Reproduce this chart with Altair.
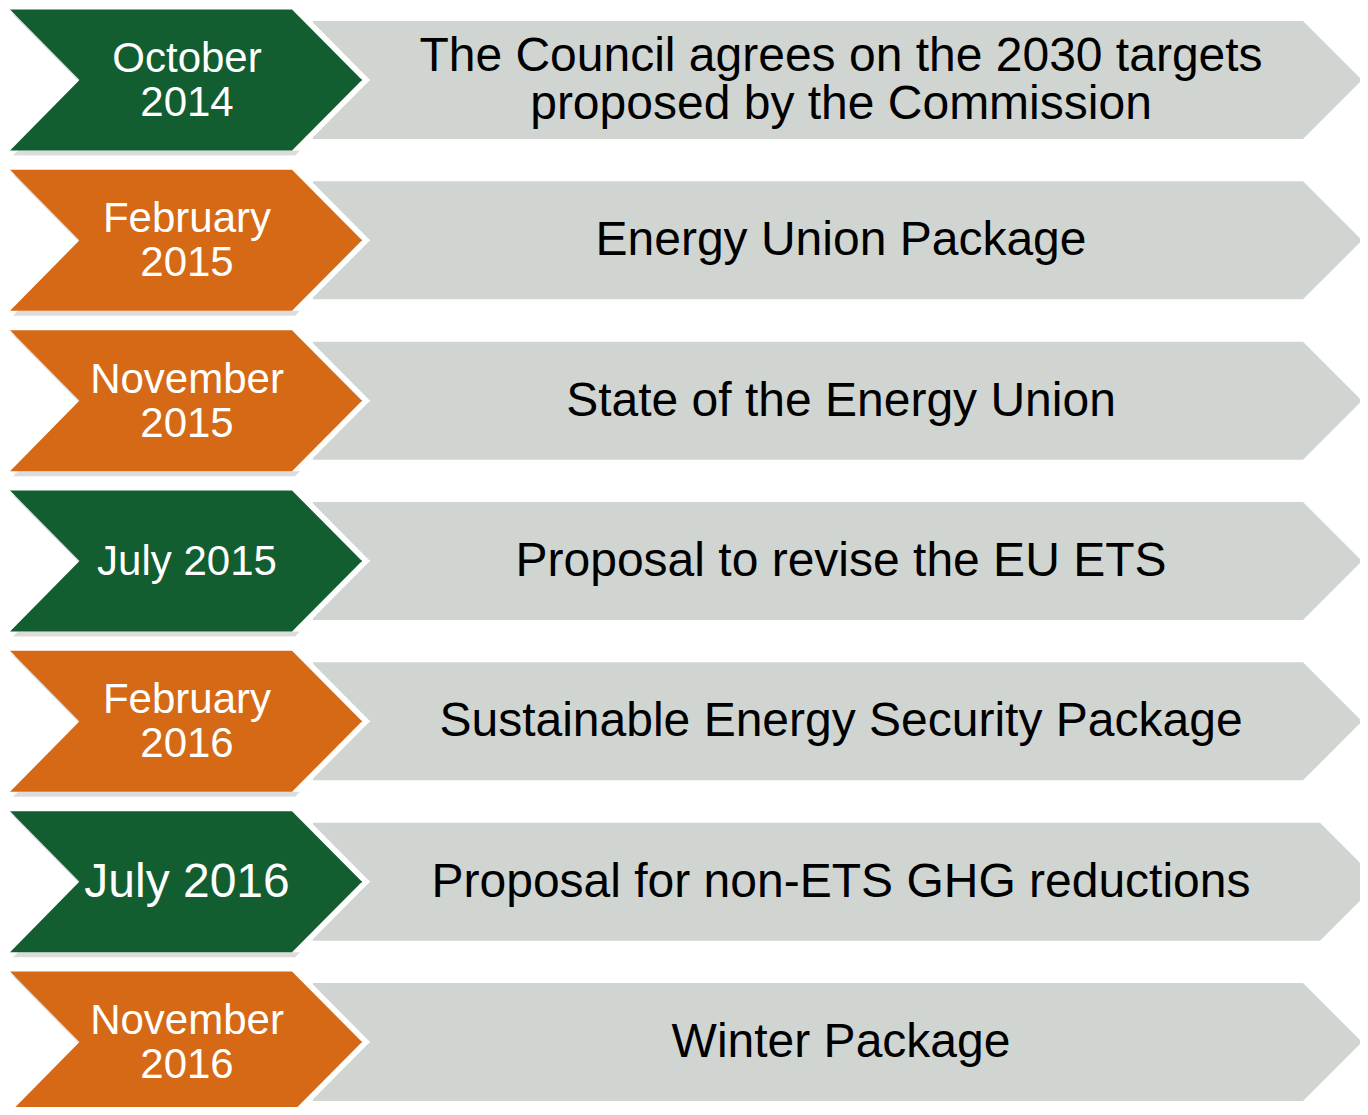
import altair as alt
import pandas as pd

# ---- data ----
dates = ["October\n2014", "February\n2015", "November\n2015", "July 2015",
         "February\n2016", "July 2016", "November\n2016"]
events = ["The Council agrees on the 2030 targets\nproposed by the Commission",
          "Energy Union Package",
          "State of the Energy Union",
          "Proposal to revise the EU ETS",
          "Sustainable Energy Security Package",
          "Proposal for non-ETS GHG reductions",
          "Winter Package"]
groups = ["green", "orange", "orange", "green", "orange", "green", "orange"]

# ---- geometry (chart pixel units) ----
W, H = 1352, 1099
PITCH, CY0 = 160.33, 72
CH_HALF, CH_L, CH_R, CH_D = 70.5, 2, 284, 70
GR_HALF, GR_L, GR_R, GR_D = 59, 305, 1295, 59
GR_EXTRA = {5: 17}
OV = 0.6  # overlap of the two chevron halves


def chevron(i, cy, dx=0, dy=0, wx=0):
    """two halves of a chevron, as vertical range-areas"""
    top, mid, bot = cy - CH_HALF + dy, cy + dy, cy + CH_HALF + dy
    l, r = CH_L + dx, CH_R + dx + wx
    out = []
    for x, y, y2 in [(l, top, top), (l + CH_D, top, mid + OV), (r, top, mid + OV), (r + CH_D, mid, mid + OV)]:
        out.append(dict(row=i, part=f"{i}u", x=x, y=y, y2=y2))
    for x, y, y2 in [(l, bot, bot), (l + CH_D, mid - OV, bot), (r, mid - OV, bot), (r + CH_D, mid - OV, mid)]:
        out.append(dict(row=i, part=f"{i}l", x=x, y=y, y2=y2))
    return out


chev, grey, shadow, white, labels = [], [], [], [], []
for i, (d, e, g) in enumerate(zip(dates, events, groups)):
    cy = CY0 + PITCH * i
    for p in chevron(i, cy):
        p["group"] = g
        chev.append(p)
    shadow += chevron(i, cy, dx=3, dy=5)
    white += chevron(i, cy, dx=7, wx=1)
    r = GR_R + GR_EXTRA.get(i, 0)
    for x, y, y2 in [(GR_L, cy - GR_HALF, cy + GR_HALF), (r, cy - GR_HALF, cy + GR_HALF), (r + GR_D, cy, cy)]:
        grey.append(dict(row=i, part=f"{i}g", x=x, y=y, y2=y2))
    ne, nd = e.count("\n"), d.count("\n")
    labels.append(dict(row=i, ye=cy + 1 - ne * 24, yd=cy + 1 - nd * 22, date=d, event=e,
                       xd=179, xe=833, big=(d == "July 2016")))

xs = alt.Scale(domain=[0, W], range=[0, W], nice=False, zero=False)
ys = alt.Scale(domain=[0, H], range=[0, H], nice=False, zero=False)


def area(df, **mark):
    return alt.Chart(pd.DataFrame(df)).mark_area(**mark).encode(
        x=alt.X("x:Q", scale=xs, axis=None),
        y=alt.Y("y:Q", scale=ys, axis=None, stack=None),
        y2="y2",
        detail="part:N",
    )


grey_l = area(grey, color="#D0D5D2")
shadow_l = area(shadow, color="#8a8a8a", opacity=0.3)
white_l = area(white, color="#ffffff")
chev_l = area(chev).encode(
    color=alt.Color("group:N", scale=alt.Scale(domain=["green", "orange"], range=["#135E30", "#D66915"]), legend=None),
)

lab = pd.DataFrame(labels)
ev_l = alt.Chart(lab).mark_text(font="Liberation Sans", fontSize=48, lineBreak="\n", lineHeight=48,
                                 align="center", baseline="middle", color="#000000").encode(
    x=alt.X("xe:Q", scale=xs, axis=None), y=alt.Y("ye:Q", scale=ys, axis=None), text="event:N")
dt_l = alt.Chart(lab).mark_text(font="Liberation Sans", lineBreak="\n", lineHeight=44,
                                 align="center", baseline="middle", color="#ffffff").encode(
    x=alt.X("xd:Q", scale=xs, axis=None), y=alt.Y("yd:Q", scale=ys, axis=None), text="date:N",
    size=alt.condition("datum.big", alt.value(48), alt.value(42)))

chart = alt.layer(grey_l, shadow_l, white_l, chev_l, ev_l, dt_l).properties(
    width=W, height=H, padding=0, autosize=alt.AutoSizeParams(type="none")
).configure_view(stroke=None)

chart.save("out.html", embed_options={"renderer": "svg", "actions": False})
